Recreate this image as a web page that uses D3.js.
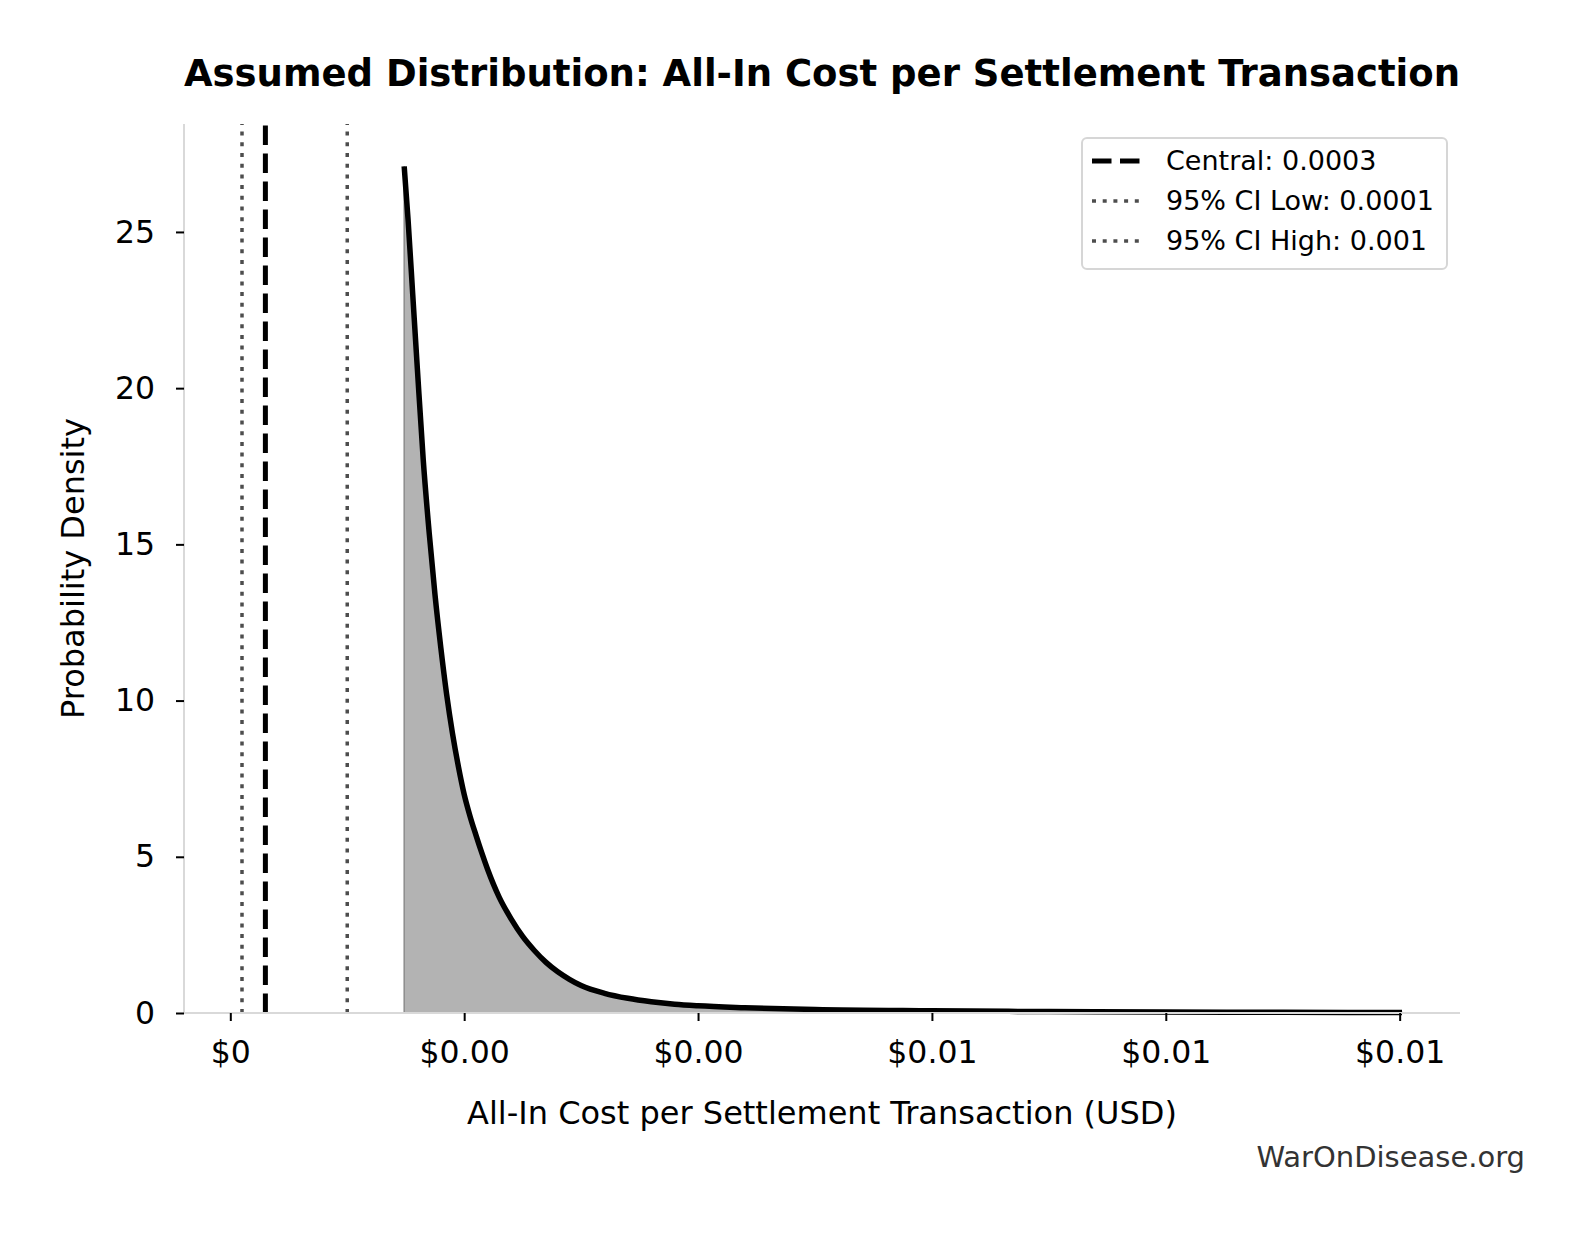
<!DOCTYPE html>
<html>
<head>
<meta charset="utf-8">
<script src="https://cdn.jsdelivr.net/npm/d3@7"></script>
<style>
  html, body { margin: 0; padding: 0; background: #fff; }
  svg { display: block; font-family: "DejaVu Sans", sans-serif; }
</style>
</head>
<body>
<div id="chart"></div>
<script>
// density curve (cost in USD, density)
const costValues = [
  0.001487, 0.00152, 0.00156, 0.0016, 0.00165, 0.0017, 0.00175, 0.0018,
  0.00185, 0.0019, 0.00195, 0.002, 0.00205, 0.0021, 0.00215, 0.0022, 0.0023, 0.0024,
  0.0025, 0.0026, 0.0027, 0.0028, 0.0029, 0.003, 0.0032, 0.0034,
  0.0036, 0.0038, 0.004, 0.0044, 0.005, 0.006, 0.007, 0.008, 0.009, 0.01002
];
const densityValues = [
  27.1, 25.4, 23.0, 20.6, 17.7, 15.4, 13.4, 11.7,
  10.2, 8.95, 7.9, 7.0, 6.3, 5.7, 5.13, 4.6, 3.7, 3.02,
  2.45, 2.0, 1.62, 1.32, 1.08, 0.88, 0.63, 0.47,
  0.36, 0.28, 0.23, 0.17, 0.11, 0.07, 0.045, 0.03, 0.022, 0.016
];

// reference lines
const refLabels = ["Central: 0.0003", "95% CI Low: 0.0001", "95% CI High: 0.001"];
const refValues = [0.0003, 0.0001, 0.001];
const refStyles = ["dashed", "dotted", "dotted"];

const xTickValues = [0, 0.002, 0.004, 0.006, 0.008, 0.01];
const xTickLabels = ["$0", "$0.00", "$0.00", "$0.01", "$0.01", "$0.01"];
const yTickValues = [0, 5, 10, 15, 20, 25];

const width = 1583, height = 1233;
const margin = { left: 184, right: 123, top: 124, bottom: 220 };

const svg = d3.select("#chart").append("svg")
  .attr("width", width)
  .attr("height", height);

// matplotlib-like limits: 5% margin on x, y from 0
const xMin = d3.min([...costValues, ...refValues]);
const xMax = d3.max([...costValues, ...refValues]);
const xPad = (xMax - xMin) * 0.05;
const x = d3.scaleLinear()
  .domain([xMin - xPad, xMax + xPad])
  .range([margin.left, width - margin.right]);

const y = d3.scaleLinear()
  .domain([0, d3.max(densityValues) * 1.05])
  .range([height - margin.bottom, margin.top]);

const points = costValues.map((c, i) => ({ c, d: densityValues[i] }));

// shaded area
const area = d3.area()
  .x((p) => x(p.c))
  .y0(y(0))
  .y1((p) => y(p.d))
  .curve(d3.curveMonotoneX);

svg.append("path")
  .datum(points)
  .attr("d", area)
  .attr("fill", "#b3b3b3")
  .attr("stroke", "#8c8c8c")
  .attr("stroke-width", 1.5);

// reference lines
const dashFor = { dashed: "19.5 8.5", dotted: "4 6.7" };
svg.append("g")
  .selectAll("line")
  .data(refValues)
  .enter()
  .append("line")
  .attr("x1", (d) => x(d))
  .attr("x2", (d) => x(d))
  .attr("y1", y.range()[0])
  .attr("y2", y.range()[1])
  .attr("stroke", (d, i) => (refStyles[i] === "dashed" ? "#000" : "#4d4d4d"))
  .attr("stroke-width", (d, i) => (refStyles[i] === "dashed" ? 5 : 3.5))
  .attr("stroke-dasharray", (d, i) => dashFor[refStyles[i]]);

// density line
const line = d3.line()
  .x((p) => x(p.c))
  .y((p) => y(p.d))
  .curve(d3.curveMonotoneX);

svg.append("path")
  .datum(points)
  .attr("d", line)
  .attr("fill", "none")
  .attr("stroke", "#000")
  .attr("stroke-width", 5.5)
  .attr("stroke-linejoin", "round");

// axes
const xAxis = d3.axisBottom(x)
  .tickValues(xTickValues)
  .tickFormat((d, i) => xTickLabels[i])
  .tickSize(8)
  .tickPadding(20);

const gx = svg.append("g")
  .attr("transform", `translate(0,${y(0)})`)
  .call(xAxis);

const yAxis = d3.axisLeft(y)
  .tickValues(yTickValues)
  .tickSize(8)
  .tickPadding(21);

const gy = svg.append("g")
  .attr("transform", `translate(${margin.left},0)`)
  .call(yAxis);

[gx, gy].forEach((g) => {
  g.select(".domain").attr("stroke", "#d9d9d9").attr("stroke-width", 2);
  g.selectAll(".tick line").attr("stroke", "#000").attr("stroke-width", 2);
  g.selectAll(".tick text")
    .attr("font-family", "DejaVu Sans")
    .attr("font-size", 31.5)
    .attr("fill", "#000");
});
// remove the end caps of the domain paths
gx.select(".domain").attr("d", `M${x.range()[0]},0H${x.range()[1]}`);
gy.select(".domain").attr("d", `M0,${y.range()[0]}V${y.range()[1]}`);

// axis titles
svg.append("text")
  .attr("x", (x.range()[0] + x.range()[1]) / 2)
  .attr("y", 1124)
  .attr("text-anchor", "middle")
  .attr("font-size", 32)
  .text("All-In Cost per Settlement Transaction (USD)");

svg.append("text")
  .attr("transform", `translate(84,${(y.range()[0] + y.range()[1]) / 2}) rotate(-90)`)
  .attr("text-anchor", "middle")
  .attr("font-size", 32)
  .text("Probability Density");

// title
svg.append("text")
  .attr("x", (x.range()[0] + x.range()[1]) / 2)
  .attr("y", 86)
  .attr("text-anchor", "middle")
  .attr("font-size", 37)
  .attr("font-weight", "bold")
  .text("Assumed Distribution: All-In Cost per Settlement Transaction");

// legend
const legend = svg.append("g").attr("transform", "translate(1082,138)");
legend.append("rect")
  .attr("width", 365)
  .attr("height", 131)
  .attr("rx", 5)
  .attr("fill", "#fff")
  .attr("stroke", "#d6d6d6")
  .attr("stroke-width", 2);

const rows = legend.selectAll("g.row")
  .data(refLabels)
  .enter()
  .append("g")
  .attr("class", "row")
  .attr("transform", (d, i) => `translate(0,${23 + i * 40})`);

rows.append("line")
  .attr("x1", 10)
  .attr("x2", 58)
  .attr("stroke", (d, i) => (refStyles[i] === "dashed" ? "#000" : "#4d4d4d"))
  .attr("stroke-width", (d, i) => (refStyles[i] === "dashed" ? 5 : 3.5))
  .attr("stroke-dasharray", (d, i) => dashFor[refStyles[i]]);

rows.append("text")
  .attr("x", 84)
  .attr("dy", "0.35em")
  .attr("font-size", 27)
  .text((d) => d);

// watermark
svg.append("text")
  .attr("x", 1525)
  .attr("y", 1167)
  .attr("text-anchor", "end")
  .attr("font-size", 29)
  .attr("fill", "#333")
  .text("WarOnDisease.org");
</script>
</body>
</html>
